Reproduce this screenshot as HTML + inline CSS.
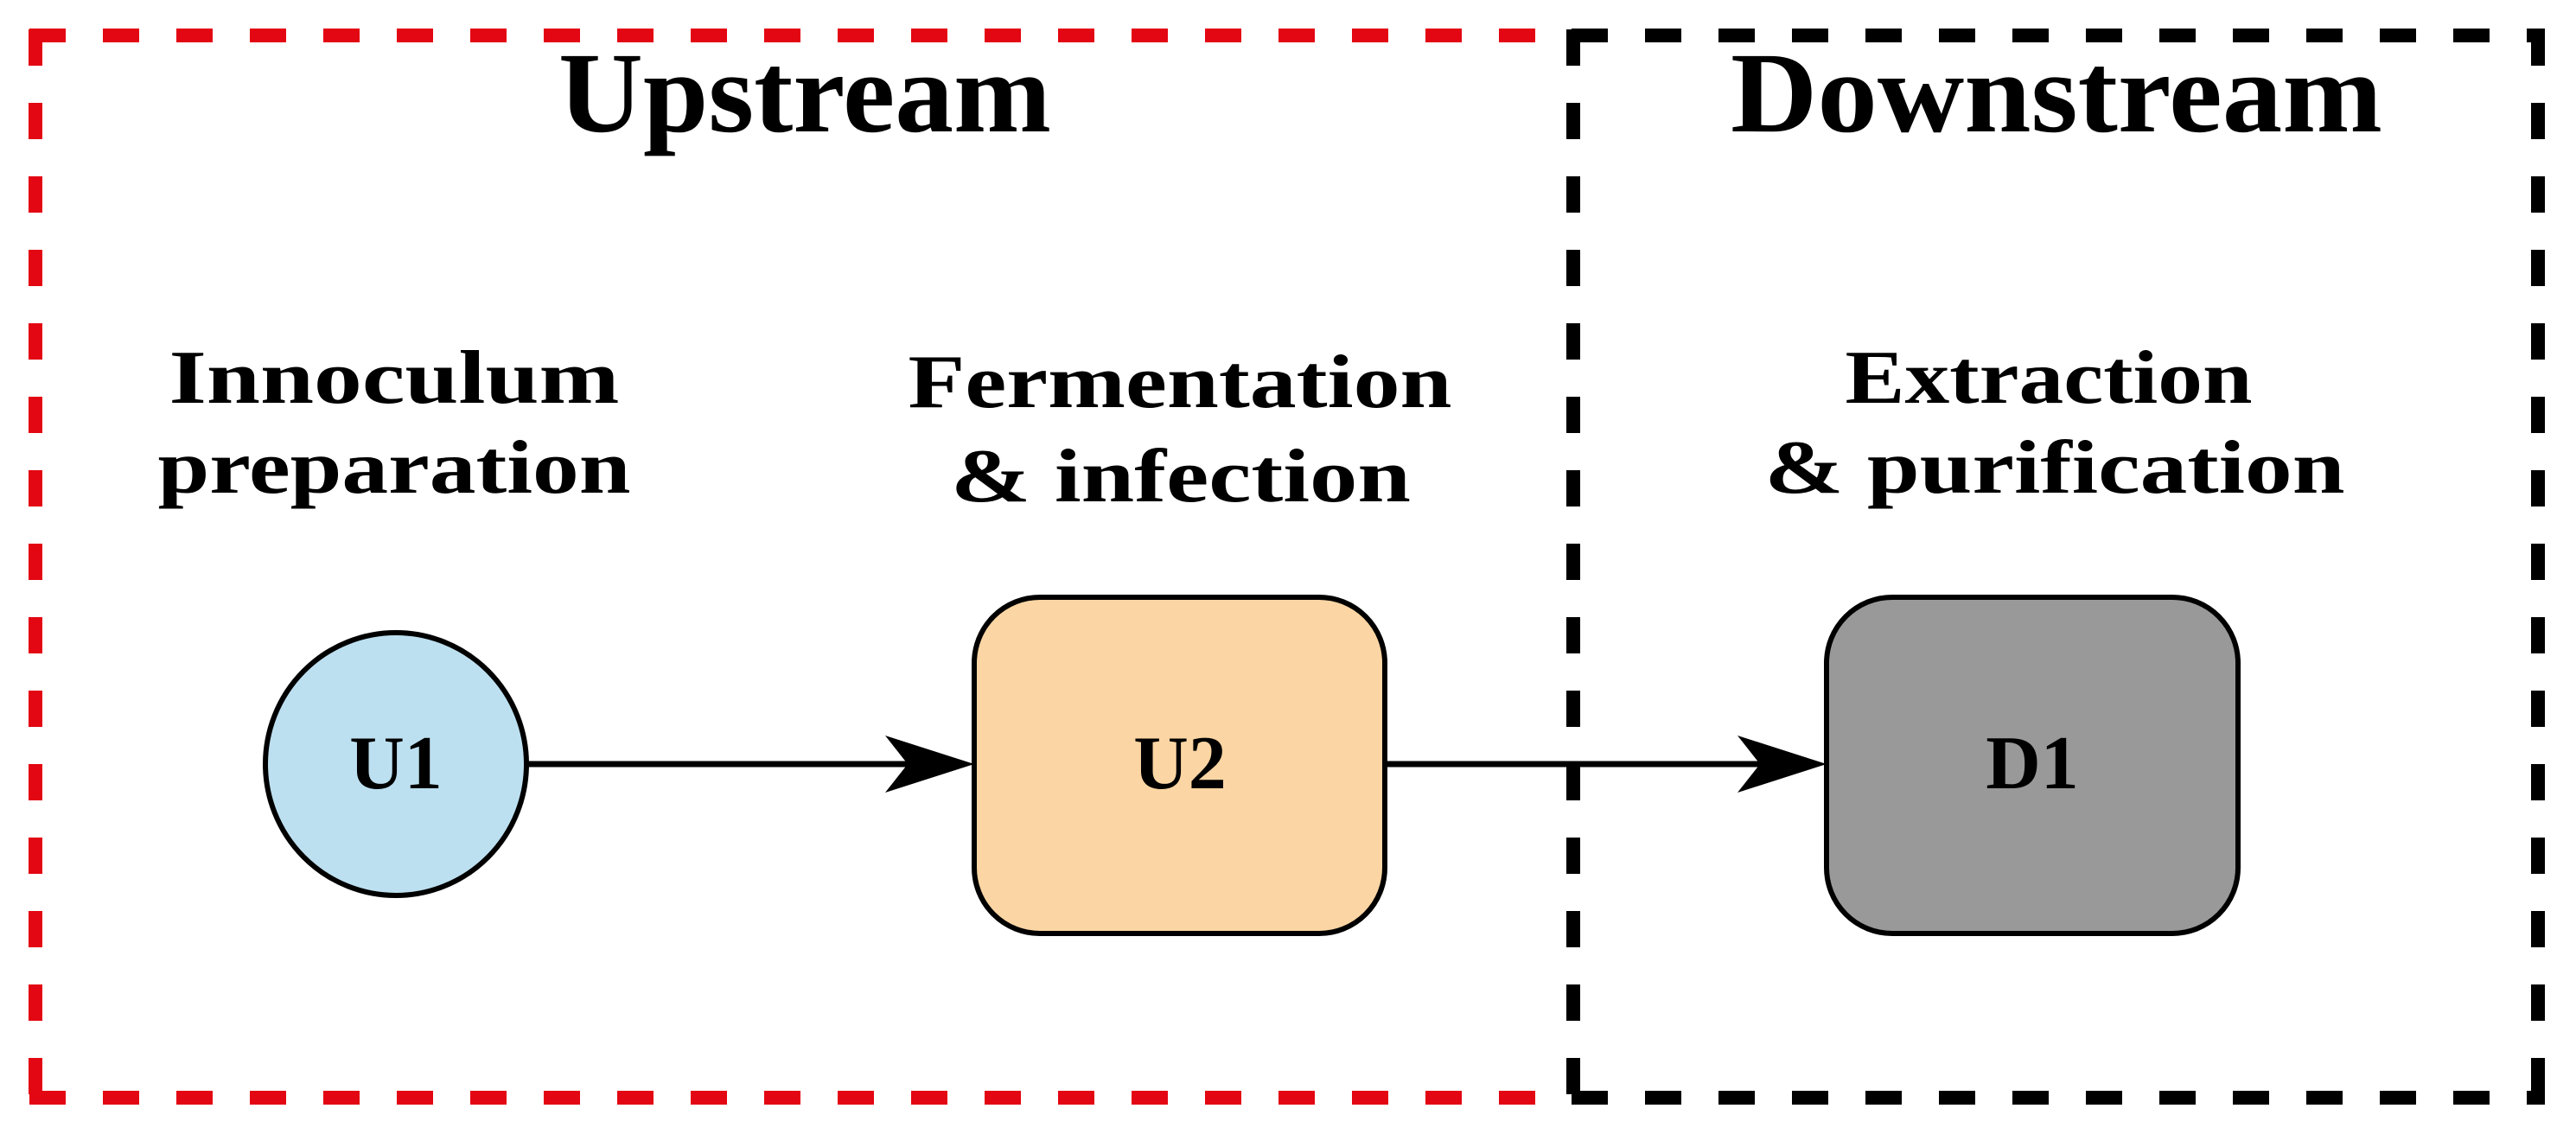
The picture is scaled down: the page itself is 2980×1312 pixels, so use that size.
<!DOCTYPE html>
<html><head><meta charset="utf-8"><style>html,body{margin:0;padding:0;background:#fff;width:2980px;height:1312px;overflow:hidden}</style></head>
<body>
<svg width="2980" height="1312" viewBox="0 0 2980 1312" xmlns="http://www.w3.org/2000/svg">
<g fill="none" stroke-width="16" stroke-dasharray="42 43">
<line x1="34" y1="41" x2="1818" y2="41" stroke="#e30613"/>
<line x1="34" y1="1270" x2="1818" y2="1270" stroke="#e30613"/>
<line x1="41" y1="34" x2="41" y2="1278" stroke="#e30613"/>
<line x1="1818" y1="41" x2="2944" y2="41" stroke="#000"/>
<line x1="1818" y1="1270" x2="2944" y2="1270" stroke="#000"/>
<line x1="2936" y1="34" x2="2936" y2="1278" stroke="#000"/>
<line x1="1820" y1="34" x2="1820" y2="1278" stroke="#000"/>
</g>
<ellipse cx="458" cy="884" rx="151" ry="152" fill="#bde0f0" stroke="#000" stroke-width="6"/>
<rect x="1127" y="691" width="475" height="389" rx="76" fill="#fbd5a3" stroke="#000" stroke-width="6"/>
<rect x="2113" y="691" width="476" height="389" rx="76" fill="#999999" stroke="#000" stroke-width="6"/>
<line x1="610" y1="884" x2="1090" y2="884" stroke="#000" stroke-width="7"/>
<path d="M1127 884 L1024 851 L1050 884 L1024 917 Z" fill="#000"/>
<line x1="1602" y1="884" x2="2076" y2="884" stroke="#000" stroke-width="7"/>
<path d="M2113 884 L2010 851 L2036 884 L2010 917 Z" fill="#000"/>
<g font-family="'Liberation Serif', serif" font-weight="bold" fill="#000" text-anchor="middle">
<text x="931" y="152" font-size="133" textLength="570" lengthAdjust="spacingAndGlyphs">Upstream</text>
<text x="2379" y="152" font-size="133" textLength="754" lengthAdjust="spacingAndGlyphs">Downstream</text>
<text x="456" y="466" font-size="88" textLength="521" lengthAdjust="spacingAndGlyphs">Innoculum</text>
<text x="456" y="570" font-size="88" textLength="547" lengthAdjust="spacingAndGlyphs">preparation</text>
<text x="1365" y="471" font-size="88" textLength="629" lengthAdjust="spacingAndGlyphs">Fermentation</text>
<text x="1366" y="580" font-size="88" textLength="532" lengthAdjust="spacingAndGlyphs">&amp; infection</text>
<text x="2370" y="466" font-size="88" textLength="471" lengthAdjust="spacingAndGlyphs">Extraction</text>
<text x="2377" y="570" font-size="88" textLength="671" lengthAdjust="spacingAndGlyphs">&amp; purification</text>
<text x="458" y="912" font-size="88">U1</text>
<text x="1365" y="912" font-size="88">U2</text>
<text x="2351" y="912" font-size="88">D1</text>
</g>
</svg>
</body></html>
